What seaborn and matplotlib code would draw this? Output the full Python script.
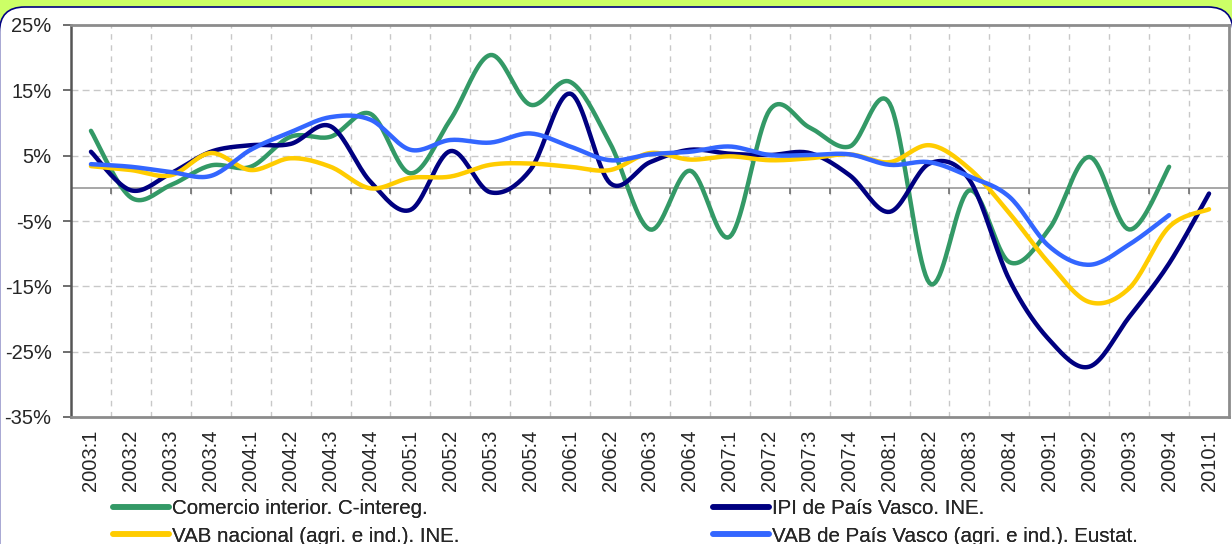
import numpy as np
import pandas as pd
import matplotlib
matplotlib.use('Agg')
import matplotlib.pyplot as plt
from matplotlib.lines import Line2D
from matplotlib.patches import FancyBboxPatch
import seaborn as sns

# datos (tasas de variación interanual, %)
trimestres = [f'{a}:{t}' for a in range(2003, 2010) for t in range(1, 5)] + ['2010:1']

comercio = [8.8, -1.4, 0.5, 3.5, 3.3, 7.9, 7.9, 11.4, 2.3, 10.5,
            20.4, 12.8, 16.3, 6.9, -6.3, 2.7, -7.4, 12.0, 9.3, 6.4,
            13.0, -14.5, -0.3, -11.3, -6.2, 4.8, -6.3, 3.3, np.nan]
ipi_pv = [5.6, -0.3, 2.3, 5.6, 6.6, 6.8, 9.5, 1.0, -3.3, 5.7,
          -0.6, 2.8, 14.5, 0.8, 4.0, 5.9, 5.3, 5.1, 5.4, 2.0,
          -3.6, 3.8, 1.3, -14.0, -23.2, -27.3, -19.7, -11.5, -0.8]
vab_nac = [3.4, 2.8, 2.0, 5.4, 2.8, 4.6, 3.3, 0.0, 1.6, 1.8,
           3.6, 3.8, 3.3, 2.8, 5.4, 4.4, 4.9, 4.3, 4.6, 5.2,
           4.0, 6.6, 3.0, -3.8, -11.5, -17.4, -15.3, -5.9, -3.2]
vab_pv = [3.7, 3.3, 2.5, 1.9, 5.9, 8.6, 10.9, 10.5, 5.9, 7.4,
          7.0, 8.4, 6.4, 4.3, 5.2, 5.6, 6.4, 5.1, 5.1, 5.2,
          3.6, 4.0, 1.8, -1.3, -8.9, -11.7, -8.6, -4.1, np.nan]

series = {
    'Comercio interior. C-intereg.': comercio,
    'IPI de País Vasco. INE.': ipi_pv,
    'VAB nacional (agri. e ind.). INE.': vab_nac,
    'VAB de País Vasco (agri. e ind.). Eustat.': vab_pv,
}
colores = {
    'Comercio interior. C-intereg.': '#339966',
    'IPI de País Vasco. INE.': '#000080',
    'VAB nacional (agri. e ind.). INE.': '#FFCC00',
    'VAB de País Vasco (agri. e ind.). Eustat.': '#3366FF',
}


# línea suavizada tipo Excel (Catmull-Rom / Bezier)
def suavizar(y, n=20):
    y = np.array([v for v in y if not np.isnan(v)], dtype=float)
    x = np.arange(len(y), dtype=float)
    xs, ys = [], []
    for i in range(len(y) - 1):
        p0 = (x[i - 1], y[i - 1]) if i > 0 else (x[i], y[i])
        p1 = (x[i], y[i])
        p2 = (x[i + 1], y[i + 1])
        p3 = (x[i + 2], y[i + 2]) if i + 2 < len(y) else (x[i + 1], y[i + 1])
        c1 = (p1[0] + (p2[0] - p0[0]) / 6, p1[1] + (p2[1] - p0[1]) / 6)
        c2 = (p2[0] - (p3[0] - p1[0]) / 6, p2[1] - (p3[1] - p1[1]) / 6)
        t = np.linspace(0, 1, n, endpoint=False)
        for a, b in [(0, xs), (1, ys)]:
            b.extend((1 - t) ** 3 * p1[a] + 3 * (1 - t) ** 2 * t * c1[a]
                     + 3 * (1 - t) * t ** 2 * c2[a] + t ** 3 * p2[a])
    xs.append(x[-1])
    ys.append(y[-1])
    return xs, ys


filas = []
for nombre, valores in series.items():
    xs, ys = suavizar(valores)
    filas.append(pd.DataFrame({'x': xs, 'valor': ys, 'serie': nombre}))
df = pd.concat(filas, ignore_index=True)

sns.set_style('white')
plt.rcParams['font.family'] = ['Liberation Sans', 'DejaVu Sans']

fig = plt.figure(figsize=(12.32, 5.44), dpi=100, facecolor='#CCFF66')
# panel blanco redondeado
fig.patches.append(FancyBboxPatch((-0.005, -0.3), 12.335, 5.67, boxstyle='round,pad=0,rounding_size=0.25',
                                  transform=fig.dpi_scale_trans, facecolor='white',
                                  edgecolor='#000080', linewidth=1.2, zorder=-5))

ax = fig.add_axes([71 / 1232, 1 - 417 / 544, (1229 - 71) / 1232, (417 - 25) / 544])
ax.set_zorder(2)
ax.set_facecolor('white')

sns.lineplot(data=df, x='x', y='valor', hue='serie', palette=colores, hue_order=list(series.keys()),
             sort=False, estimator=None, linewidth=3.2, legend=False, ax=ax, zorder=3)

ax.set_xlim(-0.5, len(trimestres) - 0.5)
ax.set_ylim(-35, 25)
ax.set_yticks(range(-35, 26, 10))
ax.set_yticklabels([f'{v}%' for v in range(-35, 26, 10)], fontsize=14.5)
ax.set_xticks(range(len(trimestres)))
ax.set_xticklabels(trimestres, rotation=90, fontsize=14.5)
limites = np.arange(0.5, len(trimestres) - 1, 1)
ax.set_xticks(limites, minor=True)
ax.set_xlabel('')
ax.set_ylabel('')

ax.tick_params(axis='y', which='major', length=6, width=1.2, color='#555555', pad=8, left=True)
ax.tick_params(axis='x', which='both', length=0, pad=9)

ax.grid(False)
ax.xaxis.grid(True, which='minor', linestyle=(0, (4, 4)), color='#C8C8C8', linewidth=1)
for v in range(-25, 25, 10):
    if v != 0:
        ax.axhline(v, linestyle=(0, (5, 3)), color='#C8C8C8', linewidth=1, zorder=1)
# eje de categorías en el 0 con sus marcas
ax.axhline(0, color='#A0A0A0', linewidth=1.3, zorder=2)
ax.plot(limites, np.zeros(len(limites)), linestyle='none', marker=3, markersize=4,
        markeredgewidth=1.2, color='#707070', zorder=2)

for lado in ['top', 'right', 'bottom']:
    ax.spines[lado].set_color('#8C8C8C')
    ax.spines[lado].set_linewidth(2)
ax.spines['left'].set_color('#555555')
ax.spines['left'].set_linewidth(1.8)

nombres = list(series.keys())
manejadores = {n: Line2D([], [], color=colores[n], linewidth=4) for n in nombres}
for col, xpos in [([nombres[0], nombres[2]], 113), ([nombres[1], nombres[3]], 713)]:
    leg = fig.legend([manejadores[n] for n in col], col, loc='upper left',
                     bbox_to_anchor=(xpos / 1232, 1 - 499 / 544), frameon=False, fontsize=14.8,
                     handlelength=2.7, handletextpad=0.15, labelspacing=0.42,
                     borderpad=0, borderaxespad=0)
    fig.add_artist(leg)

fig.savefig('out.png', dpi=100, facecolor=fig.get_facecolor())
